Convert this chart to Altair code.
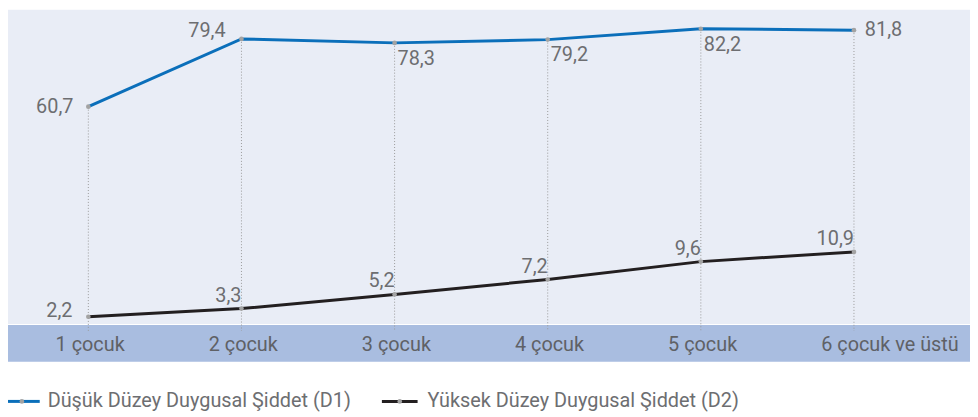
import altair as alt
import pandas as pd

categories = ["1 çocuk", "2 çocuk", "3 çocuk", "4 çocuk", "5 çocuk", "6 çocuk ve üstü"]
d1_values = [60.7, 79.4, 78.3, 79.2, 82.2, 81.8]
d2_values = [2.2, 3.3, 5.2, 7.2, 9.6, 10.9]
series_names = ["Düşük Düzey Duygusal Şiddet (D1)", "Yüksek Düzey Duygusal Şiddet (D2)"]

FONT = "Roboto"
FS = 20
TXT = "#6d6e71"
BLUE = "#0b6fba"
BLACK = "#231f20"
DOT = "#a3a3a3"

W, H = 970, 404


def fmt(v):
    return f"{v:.1f}".replace(".", ",")


df1 = pd.DataFrame({"i": range(len(categories)), "cat": categories, "v": d1_values,
                    "label": [fmt(v) for v in d1_values]})
df2 = pd.DataFrame({"i": range(len(categories)), "cat": categories, "v": d2_values,
                    "label": [fmt(v) for v in d2_values]})
dfc = pd.DataFrame({"i": range(len(categories)), "cat": categories})
one = pd.DataFrame({"k": [0]})

X = alt.X("i:Q", scale=alt.Scale(domain=[0, 5], range=[81, 853]), axis=None)
Y1 = alt.Y("v:Q", scale=alt.Scale(domain=[60, 85], range=[100.4, 9.0]), axis=None)
Y2 = alt.Y("v:Q", scale=alt.Scale(domain=[0, 12], range=[326.2, 236.0]), axis=None)

bg = alt.Chart(one).mark_rect(color="#e9edf6").encode(
    x=alt.value(0), x2=alt.value(W), y=alt.value(0), y2=alt.value(317))
band = alt.Chart(one).mark_rect(color="#a9bde0").encode(
    x=alt.value(0), x2=alt.value(W), y=alt.value(318), y2=alt.value(355))

rules = alt.Chart(df1).mark_rule(strokeDash=[1, 2], color="#9a9a9a", strokeWidth=1).encode(
    x=X, y=Y1, y2=alt.value(324))

line1 = alt.Chart(df1).mark_line(color=BLUE, strokeWidth=3).encode(x=X, y=Y1)
pts1 = alt.Chart(df1).mark_circle(color=DOT, size=22, opacity=1).encode(x=X, y=Y1)
line2 = alt.Chart(df2).mark_line(color=BLACK, strokeWidth=3).encode(x=X, y=Y2)
pts2 = alt.Chart(df2).mark_circle(color=DOT, size=22, opacity=1).encode(x=X, y=Y2)

tkw = dict(font=FONT, fontSize=FS, color=TXT, baseline="middle")

t1a = alt.Chart(df1).transform_filter("datum.i == 0").mark_text(align="right", dx=-15, dy=0, **tkw).encode(
    x=X, y=Y1, text="label:N")
t1b = alt.Chart(df1).transform_filter("datum.i == 1").mark_text(align="right", dx=-16, dy=-8, **tkw).encode(
    x=X, y=Y1, text="label:N")
t1c = alt.Chart(df1).transform_filter("datum.i >= 2 && datum.i <= 4").mark_text(align="left", dx=3, dy=16, **tkw).encode(
    x=X, y=Y1, text="label:N")
t1d = alt.Chart(df1).transform_filter("datum.i == 5").mark_text(align="left", dx=11, dy=0, **tkw).encode(
    x=X, y=Y1, text="label:N")

t2a = alt.Chart(df2).transform_filter("datum.i == 0").mark_text(align="right", dx=-16, dy=-6, **tkw).encode(
    x=X, y=Y2, text="label:N")
t2b = alt.Chart(df2).transform_filter("datum.i >= 1").mark_text(align="right", dx=0, dy=-13, **tkw).encode(
    x=X, y=Y2, text="label:N")

cats = alt.Chart(dfc).mark_text(align="left", dx=-33, font=FONT, fontSize=FS, color="#5f6166",
                                baseline="middle").encode(x=X, y=alt.value(338), text="cat:N")

LY = 395
leg = []
for (x0, x1, xd, xt), name, col in zip([(0, 32, 14, 40), (377, 413, 395, 423)], series_names, [BLUE, BLACK]):
    leg.append(alt.Chart(one).mark_rule(color=col, strokeWidth=3).encode(
        x=alt.value(x0), x2=alt.value(x1), y=alt.value(LY)))
    leg.append(alt.Chart(one).mark_circle(color=DOT, size=22, opacity=1).encode(
        x=alt.value(xd), y=alt.value(LY)))
    leg.append(alt.Chart(pd.DataFrame({"name": [name]})).mark_text(align="left", **tkw).encode(
        x=alt.value(xt), y=alt.value(LY), text="name:N"))

chart = alt.layer(bg, band, rules, line1, line2, pts1, pts2, t1a, t1b, t1c, t1d, t2a, t2b, cats, *leg).resolve_scale(
    y="independent"
).properties(
    width=W, height=H, autosize=alt.AutoSizeParams(type="none"), padding=0, background="white"
).configure_view(stroke=None)

chart.save("out.html", embed_options={"renderer": "svg", "actions": False})
